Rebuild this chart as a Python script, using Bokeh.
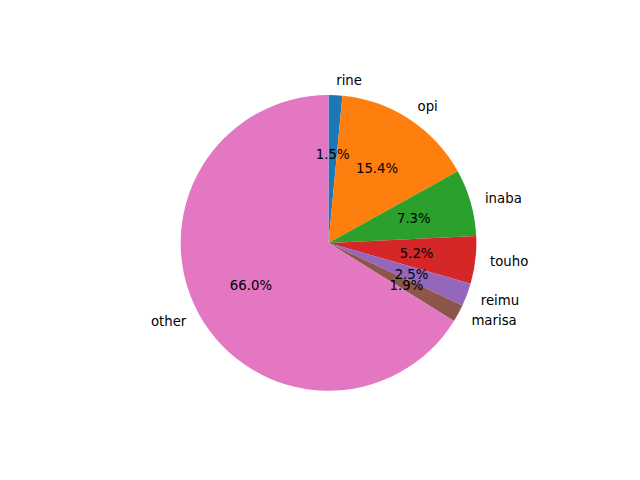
import math
from bokeh.plotting import figure
from bokeh.models import ColumnDataSource
from bokeh.embed import file_html
from bokeh.resources import INLINE
from bokeh.core.properties import value

labels = ["rine", "opi", "inaba", "touho", "reimu", "marisa", "other"]
values = [1.5, 15.4, 7.3, 5.2, 2.5, 1.9, 66.0]
colors = ["#1f77b4", "#ff7f0e", "#2ca02c", "#d62728", "#9467bd", "#8c564b", "#e377c2"]

W, H = 640, 480
scale = 147.84  # px per data unit
cx_px, cy_px = 328.0, 480 - 242.4

p = figure(width=W, height=H, output_backend="svg", toolbar_location=None,
           x_range=(-cx_px / scale, (W - cx_px) / scale),
           y_range=(-cy_px / scale, (H - cy_px) / scale),
           min_border=0)
p.axis.visible = False
p.grid.visible = False
p.outline_line_color = None
p.background_fill_color = "white"
p.border_fill_color = "white"

total = sum(values)
starts, ends, lx, ly, lalign, px, py, ptext = [], [], [], [], [], [], [], []
cum = 0.0
for v in values:
    a0 = math.pi / 2 - 2 * math.pi * (cum + v) / total
    a1 = math.pi / 2 - 2 * math.pi * cum / total
    starts.append(a0)
    ends.append(a1)
    mid = (a0 + a1) / 2
    x = 1.1 * math.cos(mid)
    y = 1.1 * math.sin(mid)
    lx.append(x)
    ly.append(y)
    lalign.append("left" if x > 0 else "right")
    px.append(0.6 * math.cos(mid))
    py.append(0.6 * math.sin(mid))
    ptext.append(f"{v:.1f}%")
    cum += v

src = ColumnDataSource(dict(start=starts, end=ends, color=colors, lx=lx, ly=ly,
                            lalign=lalign, label=labels, px=px, py=py, ptext=ptext))

p.wedge(x=0, y=0, radius=1.0, start_angle="start", end_angle="end",
        fill_color="color", line_color=None, direction="anticlock", source=src)

p.text(x="lx", y="ly", text="label", text_align="lalign", text_baseline="middle",
       text_font=value("DejaVu Sans"), text_font_size="13.3px", text_color="black",
       source=src)
p.text(x="px", y="py", text="ptext", text_align="center", text_baseline="middle",
       text_font=value("DejaVu Sans"), text_font_size="13.3px", text_color="black",
       source=src)

open("out.html", "w").write(file_html(p, INLINE))
